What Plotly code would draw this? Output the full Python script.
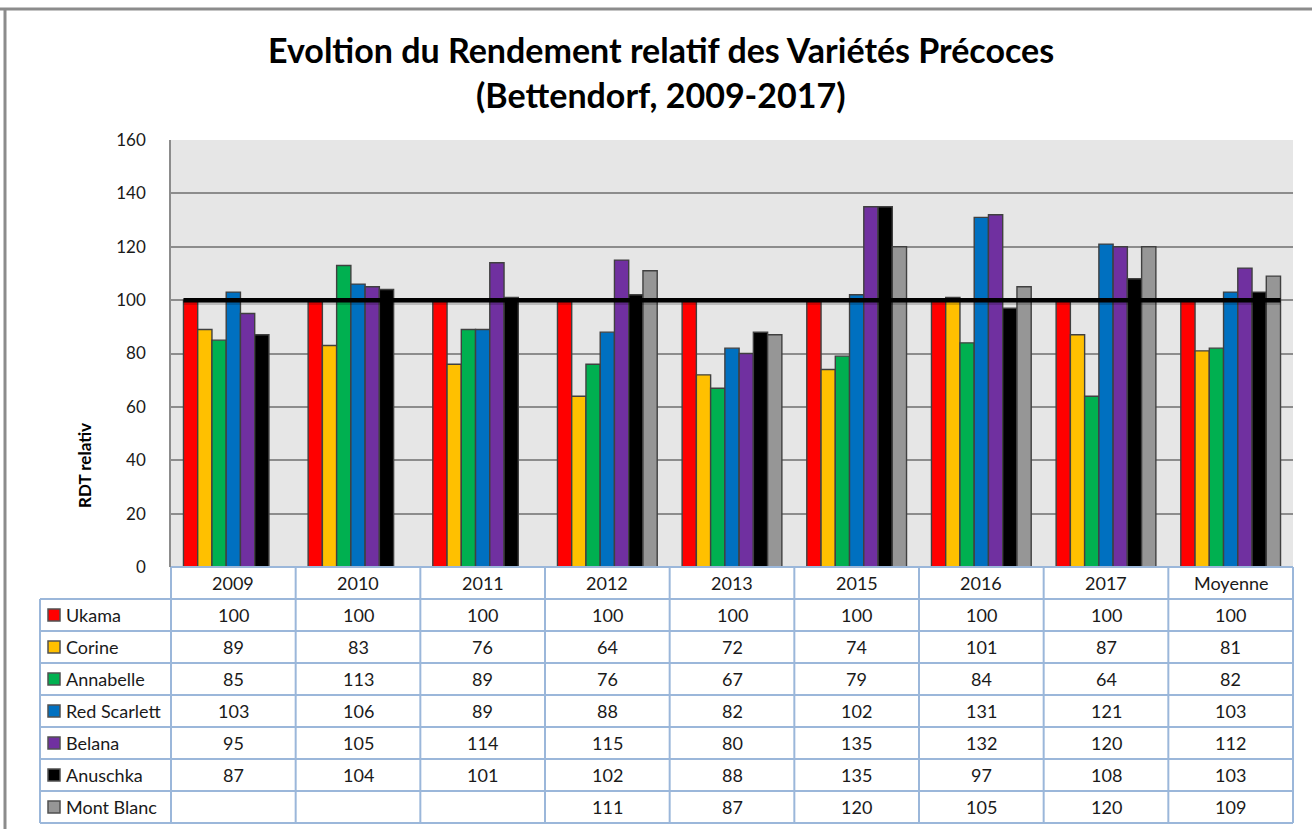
import plotly.graph_objects as go

categories = ["2009", "2010", "2011", "2012", "2013", "2015", "2016", "2017", "Moyenne"]
varieties = ["Ukama", "Corine", "Annabelle", "Red Scarlett", "Belana", "Anuschka", "Mont Blanc"]
ukama = [100, 100, 100, 100, 100, 100, 100, 100, 100]
corine = [89, 83, 76, 64, 72, 74, 101, 87, 81]
annabelle = [85, 113, 89, 76, 67, 79, 84, 64, 82]
red_scarlett = [103, 106, 89, 88, 82, 102, 131, 121, 103]
belana = [95, 105, 114, 115, 80, 135, 132, 120, 112]
anuschka = [87, 104, 101, 102, 88, 135, 97, 108, 103]
mont_blanc = [None, None, None, 111, 87, 120, 105, 120, 109]
series = [ukama, corine, annabelle, red_scarlett, belana, anuschka, mont_blanc]
colors = ["#FF0000", "#FFC000", "#00B050", "#0070C0", "#7030A0", "#000000", "#969696"]
reference_value = 100
y_ticks = [0, 20, 40, 60, 80, 100, 120, 140, 160]

W, H = 1312, 829
L, R, T, B = 171, 19, 140, 262
plot_h = H - T - B
plot_w = W - L - R
FONT = "Lato"
GRID_BLUE = "#9BB7DA"
TXT = 18

def py(pix):
    return (H - B - pix) / plot_h

def px(pix):
    return (pix - L) / plot_w

fig = go.Figure()
for name, vals, col in zip(varieties, series, colors):
    fig.add_trace(go.Bar(
        x=categories, y=vals, name=name,
        marker=dict(color=col, line=dict(color="#404040", width=1.4)),
        showlegend=False,
    ))

shapes = []
annotations = []

n = len(categories)
half = (1 - 0.2) / 2
shapes.append(dict(type="line", xref="x", yref="y", x0=-half, x1=n - 1 + half,
                   y0=reference_value - 0.9, y1=reference_value - 0.9,
                   line=dict(color="rgba(0,0,0,0.18)", width=5), layer="above"))
shapes.append(dict(type="line", xref="x", yref="y", x0=-half, x1=n - 1 + half,
                   y0=reference_value, y1=reference_value,
                   line=dict(color="#000000", width=4.5), layer="above"))

header_top = H - B
row_h = 32
n_rows = len(varieties)
table_bottom = header_top + row_h * (n_rows + 1)
label_left = 40

shapes.append(dict(type="line", xref="paper", yref="paper", x0=0, x1=1,
                   y0=py(header_top), y1=py(header_top), line=dict(color=GRID_BLUE, width=2)))
for r in range(n_rows + 1):
    yy = py(header_top + row_h * (r + 1))
    shapes.append(dict(type="line", xref="paper", yref="paper", x0=px(label_left), x1=1,
                       y0=yy, y1=yy, line=dict(color=GRID_BLUE, width=2)))
for c in range(n + 1):
    xx = c / n
    shapes.append(dict(type="line", xref="paper", yref="paper", x0=xx, x1=xx,
                       y0=py(header_top), y1=py(table_bottom), line=dict(color=GRID_BLUE, width=2)))
shapes.append(dict(type="line", xref="paper", yref="paper", x0=px(label_left), x1=px(label_left),
                   y0=py(header_top + row_h), y1=py(table_bottom), line=dict(color=GRID_BLUE, width=2)))

for c, cat in enumerate(categories):
    annotations.append(dict(xref="paper", yref="paper", x=(c + 0.5) / n, y=py(header_top + row_h / 2),
                            text=cat, showarrow=False, font=dict(family=FONT, size=TXT, color="#1a1a1a"),
                            xanchor="center", yanchor="middle"))
for r, (name, vals, col) in enumerate(zip(varieties, series, colors)):
    yc = header_top + row_h * (r + 1.5)
    shapes.append(dict(type="rect", xref="paper", yref="paper",
                       x0=px(48), x1=px(60), y0=py(yc - 6), y1=py(yc + 6),
                       fillcolor=col, line=dict(color="#505050", width=1.5)))
    annotations.append(dict(xref="paper", yref="paper", x=px(64), y=py(yc), text=name,
                            showarrow=False, xanchor="left", yanchor="middle",
                            font=dict(family=FONT, size=TXT, color="#1a1a1a")))
    for c, v in enumerate(vals):
        if v is None:
            continue
        annotations.append(dict(xref="paper", yref="paper", x=(c + 0.5) / n, y=py(yc), text=str(v),
                                showarrow=False, xanchor="center", yanchor="middle",
                                font=dict(family=FONT, size=TXT, color="#1a1a1a")))

annotations.append(dict(xref="paper", yref="paper", x=px(84), y=py(466), text="<b>RDT relativ</b>",
                        textangle=-90, showarrow=False, xanchor="center", yanchor="middle",
                        font=dict(family=FONT, size=17, color="#000000")))

annotations.append(dict(xref="paper", yref="paper", x=px(661), y=py(49),
                        text="<b>Evoltion du Rendement relatif des Variétés Précoces</b>",
                        showarrow=False, xanchor="center", yanchor="middle",
                        font=dict(family=FONT, size=34, color="#000000")))
annotations.append(dict(xref="paper", yref="paper", x=px(661), y=py(94),
                        text="<b>(Bettendorf, 2009-2017)</b>",
                        showarrow=False, xanchor="center", yanchor="middle",
                        font=dict(family=FONT, size=34, color="#000000")))

shapes.append(dict(type="line", xref="paper", yref="paper", x0=px(0), x1=px(W),
                   y0=py(9), y1=py(9), line=dict(color="#8C8C8C", width=3)))
shapes.append(dict(type="line", xref="paper", yref="paper", x0=px(5), x1=px(5),
                   y0=py(9), y1=py(H), line=dict(color="#8C8C8C", width=3)))

fig.update_layout(
    width=W, height=H,
    margin=dict(l=L, r=R, t=T, b=B),
    paper_bgcolor="white",
    plot_bgcolor="#E6E6E6",
    barmode="group",
    bargap=0.2,
    bargroupgap=0,
    shapes=shapes,
    annotations=annotations,
    font=dict(family=FONT),
)
fig.update_xaxes(showticklabels=False, showgrid=False, zeroline=False, showline=False,
                 range=[-0.5, n - 0.5])
fig.update_yaxes(range=[0, 160], tickvals=y_ticks, showgrid=True, gridcolor="#8C8C8C", gridwidth=1.5,
                 zeroline=False, showline=True, linecolor="#8C8C8C", linewidth=1.5, mirror=False,
                 tickfont=dict(family=FONT, size=17, color="#1a1a1a"), ticks="", ticklabelstandoff=20)

fig.write_html("out.html", config={"displayModeBar": False},
               post_script="document.body.style.margin='0';document.body.style.overflow='hidden';")
